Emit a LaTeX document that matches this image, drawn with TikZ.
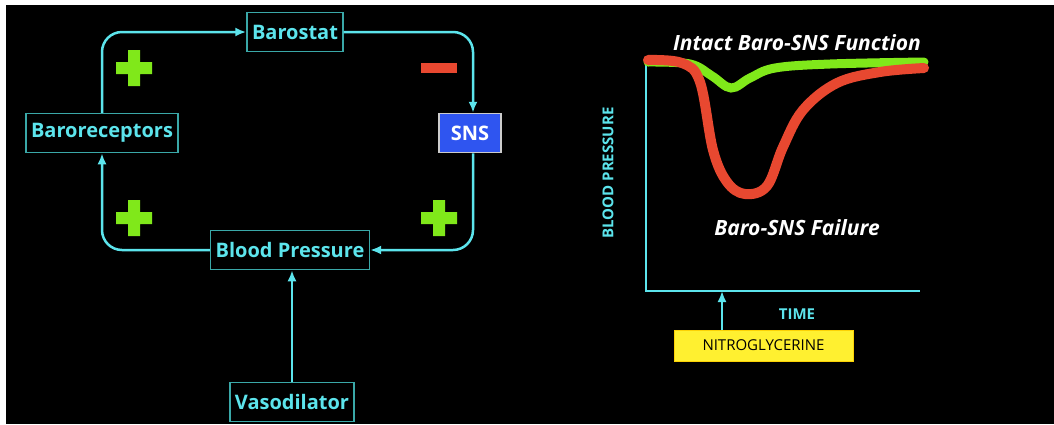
\documentclass[tikz,border=0pt]{standalone}
\usepackage{fontspec}
\setmainfont{Open Sans}
\usetikzlibrary{arrows.meta,positioning}

\definecolor{loopcyan}{HTML}{5CE4EC}
\definecolor{boxteal}{HTML}{3AA8A8}
\definecolor{snsblue}{HTML}{2F55F0}
\definecolor{plusgreen}{HTML}{80E81A}
\definecolor{minusred}{HTML}{E84830}
\definecolor{nitroyellow}{HTML}{FFF030}

\tikzset{
  block/.style={draw=boxteal, line width=1.5pt, text=loopcyan, font=\bfseries\fontsize{20}{24}\selectfont,
    minimum height=39pt, inner xsep=5pt},
  flow/.style={loopcyan, line width=2.5pt, rounded corners=20pt,
    -{Latex[length=11pt,width=9pt]}},
  axis/.style={loopcyan, line width=2pt},
  curvelabel/.style={text=white, font=\bfseries\itshape\fontsize{21}{24}\selectfont},
  axislabel/.style={text=loopcyan, font=\bfseries\fontsize{15}{18}\selectfont}
}

\begin{document}
\begin{tikzpicture}[x=1pt, y=-1pt]
	% page and black panel
	\useasboundingbox (0,0) rectangle (1054,424);
	\fill[white] (0,0) rectangle (1054,424);
	\fill[black] (6,5) rectangle (1054,424);

	% feedback loop
	\node[block] (barostat) at (295,32) {Barostat};
	\node[block] (baro) at (102,133) {Baroreceptors};
	\node[block, fill=snsblue, draw=gray!40, text=white, minimum width=62pt] (sns) at (470,133) {SNS};
	\node[block] (bp) at (290,250) {Blood Pressure};
	\node[block] (vaso) at (292,402) {Vasodilator};

	\draw[flow] (baro.north) |- (barostat.west);
	\draw[flow] (barostat.east) -| ([xshift=3pt]sns.north);
	\draw[flow] ([xshift=3pt]sns.south) |- (bp.east);
	\draw[flow] (bp.west) -| (baro.south);
	\draw[flow] (vaso.north) -- (vaso.north |- bp.south);

	% signs
	\foreach \cx/\cy in {134/68, 134/218, 439/218}
		\fill[plusgreen] (\cx-18,\cy-6) rectangle (\cx+18,\cy+6)
			(\cx-6,\cy-18) rectangle (\cx+6,\cy+18);
	\fill[minusred] (421,63) rectangle (457,73);

	% graph
	\coordinate (ytop) at (646,57);
	\coordinate (orig) at (646,291);
	\coordinate (xend) at (920,291);
	\coordinate (dose) at (722,291);
	\draw[axis] (ytop) -- (orig) -- (xend);

	\draw[plusgreen, line width=9pt, line cap=round] plot[smooth, tension=0.6] coordinates
		{(648,62) (690,64) (712,76) (731,88) (750,78) (775,68) (830,64) (924,62)};
	\draw[minusred, line width=10pt, line cap=round] plot[smooth, tension=0.6] coordinates
		{(648,60) (682,63) (700,82) (713,150) (727,182) (745,194) (767,186) (783,147)
		 (803,110) (837,83) (880,72) (924,68)};

	\node[curvelabel] (intact) at (797,43) {Intact Baro-SNS Function};
	\node[curvelabel] (failure) at (797,228) {Baro-SNS Failure};
	\node[axislabel, rotate=90] (bplabel) at (608,173) {BLOOD PRESSURE};
	\node[axislabel] (time) at (797,314) {TIME};

	\node[fill=nitroyellow, draw=yellow!70!orange, minimum width=179pt, minimum height=31pt,
		font=\fontsize{15}{18}\selectfont] (nitro) at (763.5,345.5) {NITROGLYCERINE};
	\draw[loopcyan, line width=2pt, -{Latex[length=11pt,width=9pt]}] (nitro.north -| dose) -- (dose);
\end{tikzpicture}
\end{document}
